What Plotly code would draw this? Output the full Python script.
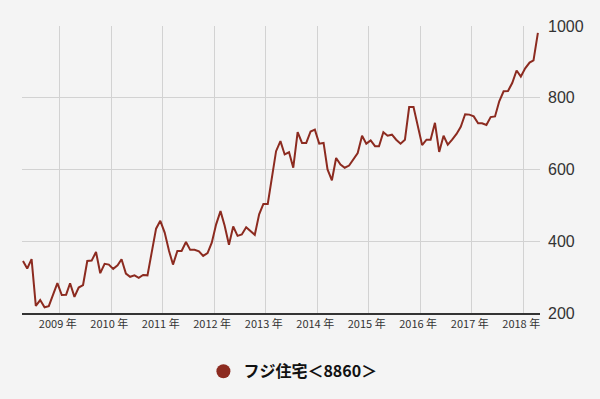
import plotly.graph_objects as go
import pandas as pd

series_name = "フジ住宅＜8860＞"
months = pd.date_range("2008-04-01", periods=121, freq="MS") + pd.Timedelta(days=14)
prices = [
    345, 324, 350, 220, 236, 216, 219, 250, 283, 250, 251, 283,
    245, 271, 278, 345, 346, 370, 311, 337, 335, 323, 333, 350,
    310, 301, 305, 298, 306, 305, 370, 435, 457, 424, 373, 335,
    373, 373, 398, 376, 376, 372, 359, 367, 396, 447, 484, 444,
    390, 441, 415, 419, 439, 428, 418, 475, 504, 504, 577, 651,
    679, 642, 648, 605, 704, 674, 674, 706, 711, 672, 674, 600,
    570, 632, 614, 605, 611, 628, 646, 694, 672, 681, 665, 665,
    704, 694, 697, 683, 672, 683, 774, 774, 720, 668, 683, 683,
    730, 649, 694, 669, 683, 699, 719, 754, 753, 748, 729, 729,
    724, 746, 748, 790, 818, 819, 841, 876, 859, 882, 898, 904,
    981,
]
year_ticks = pd.date_range("2009-01-01", "2018-01-01", freq="YS")
year_labels = [f"{d.year} 年" for d in year_ticks]
y_ticks = [200, 400, 600, 800, 1000]

line_color = "#8c2b20"

fig = go.Figure()
fig.add_trace(go.Scatter(
    x=months, y=prices, mode="lines",
    line=dict(color=line_color, width=2),
    showlegend=False, hoverinfo="x+y",
))
fig.add_trace(go.Scatter(
    x=[None], y=[None], mode="markers", name=series_name,
    marker=dict(color=line_color, size=14, symbol="circle"),
    showlegend=True,
))

fig.update_layout(
    width=600, height=399,
    paper_bgcolor="#f4f4f4", plot_bgcolor="#f4f4f4",
    margin=dict(l=22, r=60, t=26, b=85),
    font=dict(family="Liberation Sans, Arial, sans-serif", color="#333"),
    xaxis=dict(
        type="date",
        range=["2008-04-08", "2018-04-30"],
        tickvals=year_ticks, ticktext=year_labels,
        showgrid=True, gridcolor="#d2d2d2", gridwidth=1,
        showline=True, linecolor="#333", linewidth=1.5,
        ticks="", tickfont=dict(size=11, color="#333",
                                family="Noto Sans CJK JP, Liberation Sans, sans-serif"),
        ticklabelshift=-2,
        zeroline=False,
    ),
    yaxis=dict(
        side="right", range=[200, 1000],
        tickvals=y_ticks,
        showgrid=True, gridcolor="#d2d2d2", gridwidth=1,
        ticks="", tickfont=dict(size=16, color="#333"),
        ticklabelstandoff=7,
        zeroline=False, showline=False,
    ),
    legend=dict(
        orientation="h", x=0.523, xanchor="center",
        xref="paper", y=-0.14, yanchor="top",
        font=dict(size=16, color="#111",
                  family="Noto Sans CJK JP, sans-serif", weight="bold"),
        bgcolor="rgba(0,0,0,0)",
    ),
)

fig.write_html(
    "out.html",
    config={"displayModeBar": False},
    post_script="document.body.style.margin='0';document.body.style.overflow='hidden';",
)
